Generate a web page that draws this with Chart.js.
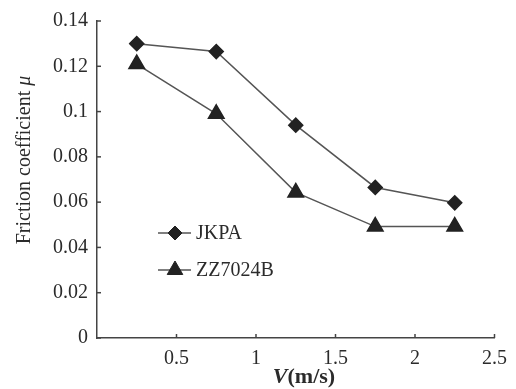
<!DOCTYPE html>
<html>
<head>
<meta charset="utf-8">
<style>
  body { margin: 0; background: #fff; }
  #wrap { width: 516px; height: 389px; }
</style>
</head>
<body>
<div id="wrap"><canvas id="chartFriction" width="516" height="389"></canvas></div>
<script src="https://cdn.jsdelivr.net/npm/chart.js@4/dist/chart.umd.min.js"></script>
<script>
// Data
const speeds = [0.25, 0.75, 1.25, 1.75, 2.25];
const jkpaValues = [0.130, 0.1265, 0.094, 0.0665, 0.0597];
const zzValues = [0.121, 0.099, 0.0643, 0.0492, 0.0492];
const seriesNames = ['JKPA', 'ZZ7024B'];
const xTicks = [0.5, 1, 1.5, 2, 2.5];
const yTicks = [0, 0.02, 0.04, 0.06, 0.08, 0.1, 0.12, 0.14];

const serif = '"Liberation Serif", "Times New Roman", serif';
const inkColor = '#222';
const lineColor = '#555';
const textColor = '#2b2b2b';

function toPoints(values) {
    return speeds.map((s, i) => ({ x: s, y: values[i] }));
}

// Inside tick marks, axis titles and the legend box inside the plot
const decorations = {
    id: 'decorations',
    afterDraw(chart) {
        const ctx = chart.ctx;
        const xs = chart.scales.x;
        const ys = chart.scales.y;
        const area = chart.chartArea;
        ctx.save();
        ctx.strokeStyle = '#444';
        ctx.lineWidth = 1.5;
        // tick marks pointing into the plot
        yTicks.forEach(v => {
            const py = ys.getPixelForValue(v);
            ctx.beginPath();
            ctx.moveTo(area.left, py);
            ctx.lineTo(area.left + 4, py);
            ctx.stroke();
        });
        xTicks.forEach(v => {
            const px = xs.getPixelForValue(v);
            ctx.beginPath();
            ctx.moveTo(px, area.bottom);
            ctx.lineTo(px, area.bottom - 4);
            ctx.stroke();
        });

        // y title, rotated, with italic mu
        ctx.fillStyle = textColor;
        ctx.textBaseline = 'middle';
        ctx.save();
        ctx.translate(25, 160);
        ctx.rotate(-Math.PI / 2);
        const yPart1 = 'Friction coefficient ';
        const yPart2 = 'μ';
        ctx.font = '20px ' + serif;
        const w1 = ctx.measureText(yPart1).width;
        ctx.font = 'italic 20px ' + serif;
        const w2 = ctx.measureText(yPart2).width;
        const start = -(w1 + w2) / 2;
        ctx.textAlign = 'left';
        ctx.font = '20px ' + serif;
        ctx.fillText(yPart1, start, 0);
        ctx.font = 'italic 20px ' + serif;
        ctx.fillText(yPart2, start + w1, 0);
        ctx.restore();

        // x title with italic V
        const xPart1 = 'V';
        const xPart2 = '(m/s)';
        ctx.font = 'italic bold 22px ' + serif;
        const v1 = ctx.measureText(xPart1).width;
        ctx.font = 'bold 22px ' + serif;
        const v2 = ctx.measureText(xPart2).width;
        const xStart = 304 - (v1 + v2) / 2;
        ctx.textAlign = 'left';
        ctx.font = 'italic bold 22px ' + serif;
        ctx.fillText(xPart1, xStart, 377);
        ctx.font = 'bold 22px ' + serif;
        ctx.fillText(xPart2, xStart + v1, 377);

        // legend
        const rows = [233, 270];
        chart.data.datasets.forEach((ds, i) => {
            const ly = rows[i];
            ctx.strokeStyle = lineColor;
            ctx.lineWidth = 1.5;
            ctx.beginPath();
            ctx.moveTo(158, ly);
            ctx.lineTo(191, ly);
            ctx.stroke();
            ctx.fillStyle = inkColor;
            ctx.strokeStyle = inkColor;
            ctx.lineWidth = 1;
            Chart.helpers.drawPoint(ctx, {
                pointStyle: ds.pointStyle,
                radius: ds.pointRadius,
                rotation: 0,
                borderWidth: 1
            }, 175, ly);
            ctx.fillStyle = textColor;
            ctx.font = '20px ' + serif;
            ctx.textAlign = 'left';
            ctx.fillText(ds.label, 196, ly + 1);
        });
        ctx.restore();
    }
};

const chartFriction = new Chart(document.getElementById('chartFriction'), {
    type: 'line',
    data: {
        datasets: [
            {
                label: seriesNames[0],
                data: toPoints(jkpaValues),
                borderColor: lineColor,
                borderWidth: 1.5,
                pointStyle: 'rectRot',
                pointRadius: 7,
                pointBackgroundColor: inkColor,
                pointBorderColor: inkColor,
                tension: 0
            },
            {
                label: seriesNames[1],
                data: toPoints(zzValues),
                borderColor: lineColor,
                borderWidth: 1.5,
                pointStyle: 'triangle',
                pointRadius: 9,
                pointBackgroundColor: inkColor,
                pointBorderColor: inkColor,
                tension: 0
            }
        ]
    },
    options: {
        responsive: false,
        animation: false,
        layout: { padding: { top: 16, right: 21, left: 0, bottom: 0 } },
        plugins: {
            legend: { display: false },
            tooltip: { enabled: false }
        },
        scales: {
            x: {
                type: 'linear',
                min: 0,
                max: 2.5,
                afterBuildTicks: scale => { scale.ticks = xTicks.map(v => ({ value: v })); },
                grid: { display: false, drawTicks: false },
                border: { display: true, color: '#444', width: 1.5 },
                ticks: {
                    padding: 9,
                    color: textColor,
                    font: { family: serif, size: 20 },
                    callback: v => String(v)
                },
                afterFit: scale => { scale.height = 51; }
            },
            y: {
                min: 0,
                max: 0.14,
                afterBuildTicks: scale => { scale.ticks = yTicks.map(v => ({ value: v })); },
                grid: { display: false, drawTicks: false },
                border: { display: true, color: '#444', width: 1.5 },
                ticks: {
                    padding: 9,
                    color: textColor,
                    font: { family: serif, size: 20 },
                    callback: v => String(+v.toFixed(2))
                },
                afterFit: scale => { scale.width = 97; }
            }
        }
    },
    plugins: [decorations]
});
</script>
</body>
</html>
